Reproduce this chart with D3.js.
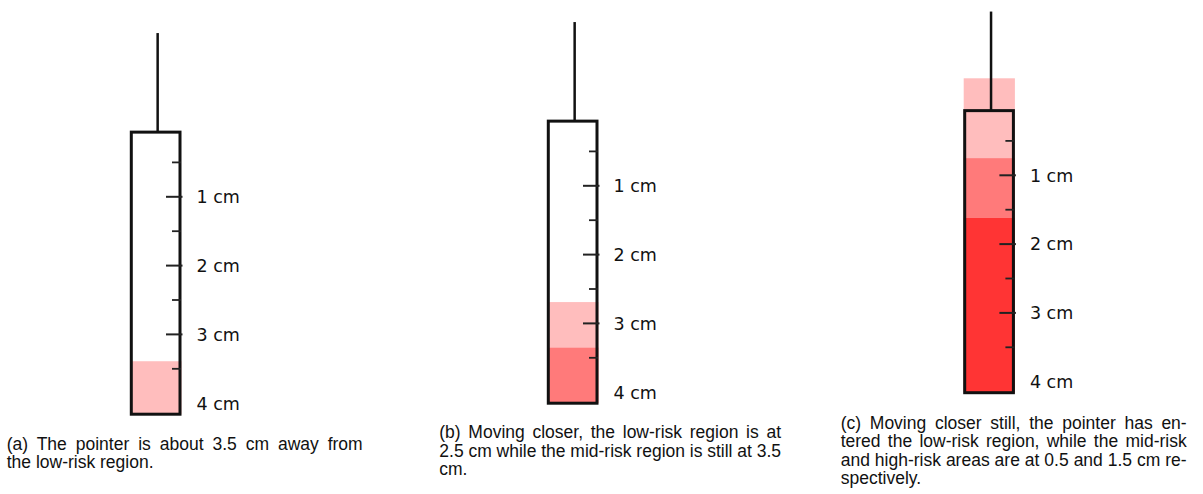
<!DOCTYPE html>
<html>
<head>
<meta charset="utf-8">
<script src="https://cdn.jsdelivr.net/npm/d3@7"></script>
<style>
  body { margin: 0; background: #fff; }
  svg { display: block; }
</style>
</head>
<body>
<div id="chart"></div>
<script>
// Global Variables
const width = 1203, height = 494;

// panel data (values in cm)
const panelIds = ["a", "b", "c"];
const lowStart = [3.39, 2.69, -0.41];   // low-risk region begins here
const midStart = [null, 3.35, 0.75];    // mid-risk region begins here
const highStart = [null, null, 1.62];   // high-risk region begins here

const majorTicks = [1, 2, 3, 4];
const minorTicks = [0.5, 1.5, 2.5, 3.5];
const tickLabels = ["1 cm", "2 cm", "3 cm", "4 cm"];

const captions = [
    ["(a) The pointer is about 3.5 cm away from", "the low-risk region."],
    ["(b) Moving closer, the low-risk region is at", "2.5 cm while the mid-risk region is still at 3.5", "cm."],
    ["(c) Moving closer still, the pointer has en-", "tered the low-risk region, while the mid-risk", "and high-risk areas are at 0.5 and 1.5 cm re-", "spectively."]
];

// layout
const panelX = [131.3, 548.3, 964.7];   // box left edge
const zeroY = [128, 117, 106.5];        // where 0 cm sits
const pxPerCm = 68.8;
const boxW = 48.7;
const boxTop = 0.06, boxBottom = 4.16, stemTop = -1.38;

const captionX = [6.7, 439.3, 840.7];
const captionW = [356, 341.7, 346];
const captionY = [450, 438.3, 429];
const lineH = 18.3;

let colorLow = "#ffbdbd";
let colorMid = "#ff7a7a";
let colorHigh = "#ff3434";

const svg = d3.select("#chart")
    .append("svg")
    .attr("width", width)
    .attr("height", height);

function drawPanel(i) {
    const g = svg.append("g").attr("class", "panel-" + panelIds[i]);
    const y = d3.scaleLinear()
        .domain([0, 4])
        .range([zeroY[i], zeroY[i] + 4 * pxPerCm]);
    const x0 = panelX[i], x1 = panelX[i] + boxW;

    // risk bands, each running until the next one starts (or the box bottom)
    const starts = [lowStart[i], midStart[i], highStart[i]];
    const colors = [colorLow, colorMid, colorHigh];
    const bands = [];
    starts.forEach((s, k) => {
        if (s === null) return;
        let end = boxBottom;
        for (let j = k + 1; j < starts.length; j++) {
            if (starts[j] !== null) { end = starts[j]; break; }
        }
        bands.push({ s: s, e: end, color: colors[k] });
    });

    g.selectAll(".band")
        .data(bands)
        .enter()
        .append("rect")
        .attr("class", "band")
        .attr("x", x0 - 1)
        .attr("width", boxW + 2.5)
        .attr("y", d => y(d.s))
        .attr("height", d => y(d.e) - y(d.s))
        .style("fill", d => d.color);

    // pointer stem
    g.append("line")
        .attr("x1", x0 + boxW / 2 + 2)
        .attr("x2", x0 + boxW / 2 + 2)
        .attr("y1", y(stemTop))
        .attr("y2", y(boxTop))
        .style("stroke", "#111")
        .style("stroke-width", 2.5);

    // box outline
    g.append("rect")
        .attr("x", x0)
        .attr("y", y(boxTop))
        .attr("width", boxW)
        .attr("height", y(boxBottom) - y(boxTop))
        .style("fill", "none")
        .style("stroke", "#111")
        .style("stroke-width", 3);

    // ticks
    g.selectAll(".major")
        .data(majorTicks.filter(d => d < 4))
        .enter()
        .append("line")
        .attr("class", "major")
        .attr("x1", x1 - 14).attr("x2", x1 + 2.5)
        .attr("y1", d => y(d)).attr("y2", d => y(d))
        .style("stroke", "#222")
        .style("stroke-width", 2);

    g.selectAll(".minor")
        .data(minorTicks)
        .enter()
        .append("line")
        .attr("class", "minor")
        .attr("x1", x1 - 8).attr("x2", x1 + 1)
        .attr("y1", d => y(d)).attr("y2", d => y(d))
        .style("stroke", "#222")
        .style("stroke-width", 1.8);

    // labels, kept inside the box's extent
    g.selectAll(".tick-label")
        .data(majorTicks)
        .enter()
        .append("text")
        .attr("class", "tick-label")
        .attr("x", x1 + 16.5)
        .attr("y", d => Math.min(y(d), y(boxBottom) - 4))
        .attr("dy", "0.36em")
        .style("font-family", "DejaVu Sans")
        .style("font-size", "17.5px")
        .style("fill", "#111")
        .text((d, k) => tickLabels[k]);

    // caption, justified except the last line
    const lines = captions[i];
    lines.forEach((line, k) => {
        const t = g.append("text")
            .attr("x", captionX[i])
            .attr("y", captionY[i] + k * lineH)
            .style("font-family", "Liberation Sans, Arial, sans-serif")
            .style("font-size", "17.5px")
            .style("fill", "#111")
            .text(line);
        if (k < lines.length - 1) {
            const natural = t.node().getComputedTextLength();
            const gaps = line.split(" ").length - 1;
            if (gaps > 0) t.style("word-spacing", ((captionW[i] - natural) / gaps) + "px");
        }
    });
}

panelIds.forEach((d, i) => drawPanel(i));
</script>
</body>
</html>
